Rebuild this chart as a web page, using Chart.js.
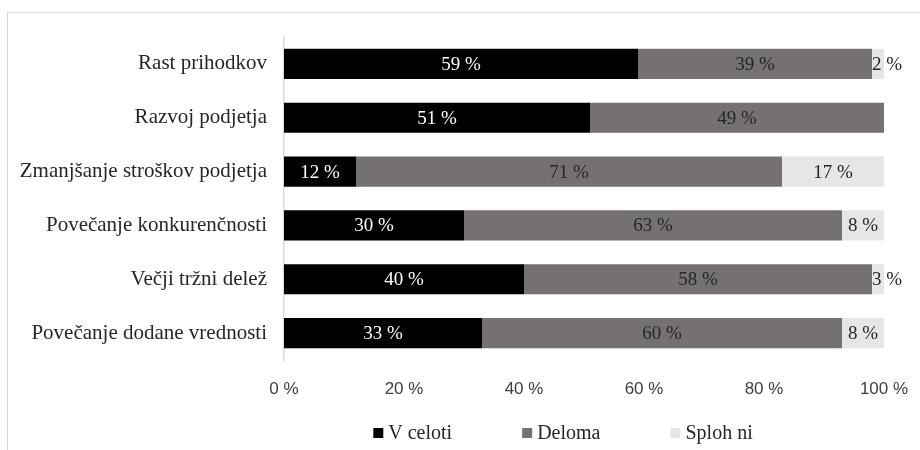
<!DOCTYPE html>
<html lang="sl">
<head>
    <meta charset="UTF-8">
    <title>Učinki</title>
    <script src="https://cdn.jsdelivr.net/npm/chart.js"></script>
    <style>
        body {
            margin: 0;
            background: #fff;
            overflow: hidden;
        }
        #wrap {
            position: relative;
            width: 920px;
            height: 450px;
        }
        #frame {
            position: absolute;
            left: 7px;
            top: 12px;
            width: 1000px;
            height: 1000px;
            border: 1.5px solid #d9d9d9;
            pointer-events: none;
        }
    </style>
</head>
<body>
    <div id="wrap">
        <canvas id="barChart" width="920" height="450"></canvas>
        <div id="frame"></div>
    </div>

    <script>
        const categories = [
            'Rast prihodkov',
            'Razvoj podjetja',
            'Zmanjšanje stroškov podjetja',
            'Povečanje konkurenčnosti',
            'Večji tržni delež',
            'Povečanje dodane vrednosti'
        ];
        const seriesNames = ['V celoti', 'Deloma', 'Sploh ni'];
        const vCeloti = [59, 51, 12, 30, 40, 33];
        const deloma = [39, 49, 71, 63, 58, 60];
        const splohNi = [2, 0, 17, 8, 3, 8];
        const xTicks = [0, 20, 40, 60, 80, 100];

        const colors = ['#000000', '#767171', '#e7e6e6'];
        const labelColors = ['#ffffff', '#262626', '#262626'];
        const serif = '"Liberation Serif", "Times New Roman", serif';

        // value labels inside each segment; narrow segments get the label from their left edge
        const segmentLabels = {
            id: 'segmentLabels',
            afterDatasetsDraw(chart) {
                const ctx = chart.ctx;
                ctx.save();
                ctx.font = '19px ' + serif;
                ctx.textBaseline = 'middle';
                chart.data.datasets.forEach((ds, i) => {
                    const meta = chart.getDatasetMeta(i);
                    meta.data.forEach((bar, j) => {
                        const v = ds.data[j];
                        if (!v) return;
                        const text = v + ' %';
                        const w = ctx.measureText(text).width;
                        const left = Math.min(bar.base, bar.x);
                        const right = Math.min(Math.max(bar.base, bar.x), chart.chartArea.right);
                        ctx.fillStyle = labelColors[i];
                        if (w > right - left) {
                            ctx.textAlign = 'left';
                            ctx.fillText(text, left, bar.y + 1);
                        } else {
                            ctx.textAlign = 'center';
                            ctx.fillText(text, (left + right) / 2, bar.y + 1);
                        }
                    });
                });
                ctx.restore();
            }
        };

        // legend row under the axis
        const bottomLegend = {
            id: 'bottomLegend',
            afterDraw(chart) {
                const ctx = chart.ctx;
                ctx.save();
                ctx.font = '20px ' + serif;
                ctx.textBaseline = 'middle';
                ctx.textAlign = 'left';
                const box = 10, gapText = 5, gapItem = 70, y = 433;
                const widths = seriesNames.map(n => box + gapText + ctx.measureText(n).width);
                const total = widths.reduce((a, b) => a + b, 0) + gapItem * (widths.length - 1);
                let x = 563 - total / 2;
                seriesNames.forEach((name, i) => {
                    ctx.fillStyle = colors[i];
                    ctx.fillRect(x, y - box / 2, box, box);
                    ctx.fillStyle = '#262626';
                    ctx.fillText(name, x + box + gapText, y + 1);
                    x += widths[i] + gapItem;
                });
                ctx.restore();
            }
        };

        const ctx = document.getElementById('barChart').getContext('2d');
        new Chart(ctx, {
            type: 'bar',
            data: {
                labels: categories,
                datasets: [vCeloti, deloma, splohNi].map((d, i) => ({
                    label: seriesNames[i],
                    data: d,
                    backgroundColor: colors[i],
                    borderWidth: 0,
                    barPercentage: 0.56,
                    categoryPercentage: 1
                }))
            },
            options: {
                indexAxis: 'y',
                responsive: false,
                animation: false,
                devicePixelRatio: 1,
                layout: {
                    padding: { top: 37, right: 36, left: 0, bottom: 50 }
                },
                plugins: {
                    legend: { display: false },
                    tooltip: { enabled: false }
                },
                scales: {
                    x: {
                        stacked: true,
                        min: 0,
                        max: 100,
                        afterBuildTicks: s => { s.ticks = xTicks.map(v => ({ value: v })); },
                        afterFit: s => {
                            s.height = 40;
                            s.paddingLeft = 0;
                            s.paddingRight = 0;
                        },
                        grid: { display: false, drawTicks: false },
                        border: { display: false },
                        ticks: {
                            callback: v => v + ' %',
                            color: '#404040',
                            padding: 19,
                            maxRotation: 0,
                            font: { family: '"Liberation Sans", Arial, sans-serif', size: 17 }
                        }
                    },
                    y: {
                        stacked: true,
                        afterFit: s => { s.width = 284; },
                        grid: { display: false, drawTicks: false },
                        border: { color: '#d9d9d9', width: 1.5 },
                        ticks: {
                            color: '#262626',
                            padding: 17,
                            font: { family: serif, size: 21 }
                        }
                    }
                }
            },
            plugins: [segmentLabels, bottomLegend]
        });
    </script>
</body>
</html>
